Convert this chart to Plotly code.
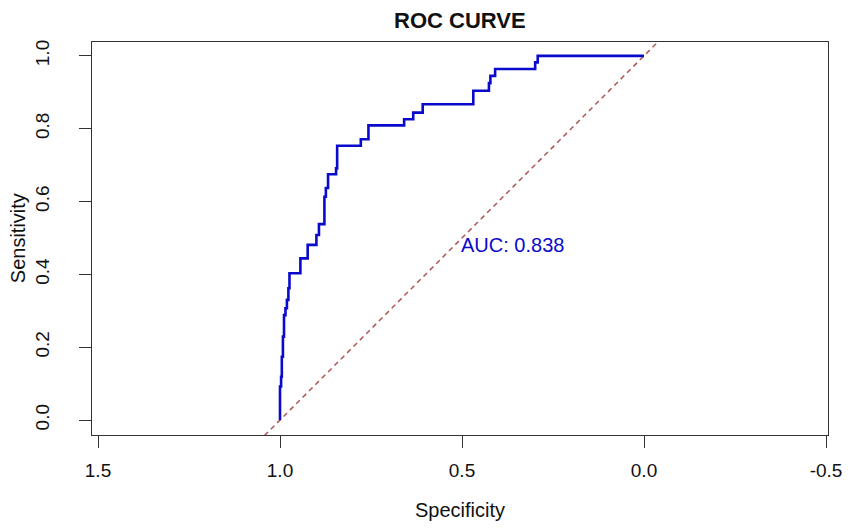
import plotly.graph_objects as go

# ROC curve vertices (specificity, sensitivity), step curve ('vh')
specificity = [1.000, 0.997, 0.995, 0.992, 0.989, 0.985, 0.981, 0.977, 0.974, 0.944,
               0.924, 0.900, 0.893, 0.878, 0.874, 0.868, 0.846, 0.843, 0.778, 0.757,
               0.659, 0.634, 0.608, 0.469, 0.426, 0.422, 0.409, 0.299, 0.292, 0.000]
sensitivity = [0.000, 0.092, 0.119, 0.174, 0.229, 0.288, 0.307, 0.330, 0.362, 0.403,
               0.444, 0.481, 0.508, 0.538, 0.613, 0.637, 0.675, 0.691, 0.753, 0.771,
               0.809, 0.826, 0.844, 0.867, 0.904, 0.925, 0.945, 0.964, 0.982, 1.000]

diag_spec = [1.2, -0.2]
diag_sens = [-0.2, 1.2]

auc_value = 0.838
x_ticks = [1.5, 1.0, 0.5, 0.0, -0.5]
y_ticks = [0.0, 0.2, 0.4, 0.6, 0.8, 1.0]

FONT = "Liberation Sans, Arial, sans-serif"

fig = go.Figure()
fig.add_trace(go.Scatter(x=diag_spec, y=diag_sens, mode="lines",
                         line=dict(color="#B05555", width=1.5, dash="5px,4px"),
                         hoverinfo="skip", showlegend=False))
fig.add_trace(go.Scatter(x=specificity, y=sensitivity, mode="lines",
                         line=dict(color="#0A0ACD", width=2.6, shape="vh"),
                         showlegend=False))

fig.add_annotation(x=0.5, y=0.5, xref="x", yref="y", text=f"AUC: {auc_value:.3f}",
                   showarrow=False, xanchor="left", yanchor="top",
                   xshift=-3, yshift=6,
                   font=dict(family=FONT, size=20, color="#0A0ACD"))

fig.add_annotation(x=0.5, y=-0.19, xref="paper", yref="paper", text="Specificity",
                   showarrow=False, xanchor="center", yanchor="middle",
                   font=dict(family=FONT, size=20, color="#111111"))
fig.add_annotation(x=-0.101, y=0.5, xref="paper", yref="paper", text="Sensitivity",
                   showarrow=False, xanchor="center", yanchor="middle", textangle=-90,
                   font=dict(family=FONT, size=20, color="#111111"))

fig.update_layout(
    width=843, height=520,
    margin=dict(l=84, r=23, t=34, b=93, autoexpand=False),
    paper_bgcolor="white", plot_bgcolor="white",
    title=dict(text="<b>ROC CURVE</b>", x=0.536, xanchor="center",
               y=0.977, yanchor="middle", yref="container",
               font=dict(family=FONT, size=22, color="#111111")),
    xaxis=dict(range=[1.5165, -0.5055], tickvals=x_ticks,
               ticktext=[f"{v:.1f}" for v in x_ticks], automargin=False,
               showgrid=False, zeroline=False, showline=True, mirror=True,
               linecolor="#333333", linewidth=1.2,
               ticks="outside", ticklen=12, tickcolor="#333333", tickwidth=1.2,
               ticklabelstandoff=6,
               tickfont=dict(family=FONT, size=19, color="#111111")),
    yaxis=dict(range=[-0.041, 1.038], tickvals=y_ticks,
               ticktext=[f"{v:.1f}" for v in y_ticks], automargin=False,
               showgrid=False, zeroline=False, showline=True, mirror=True,
               linecolor="#333333", linewidth=1.2,
               ticks="outside", ticklen=12, tickcolor="#333333", tickwidth=1.2,
               tickangle=-90, ticklabelstandoff=22,
               tickfont=dict(family=FONT, size=19, color="#111111")),
)

fig.write_html("out.html")
